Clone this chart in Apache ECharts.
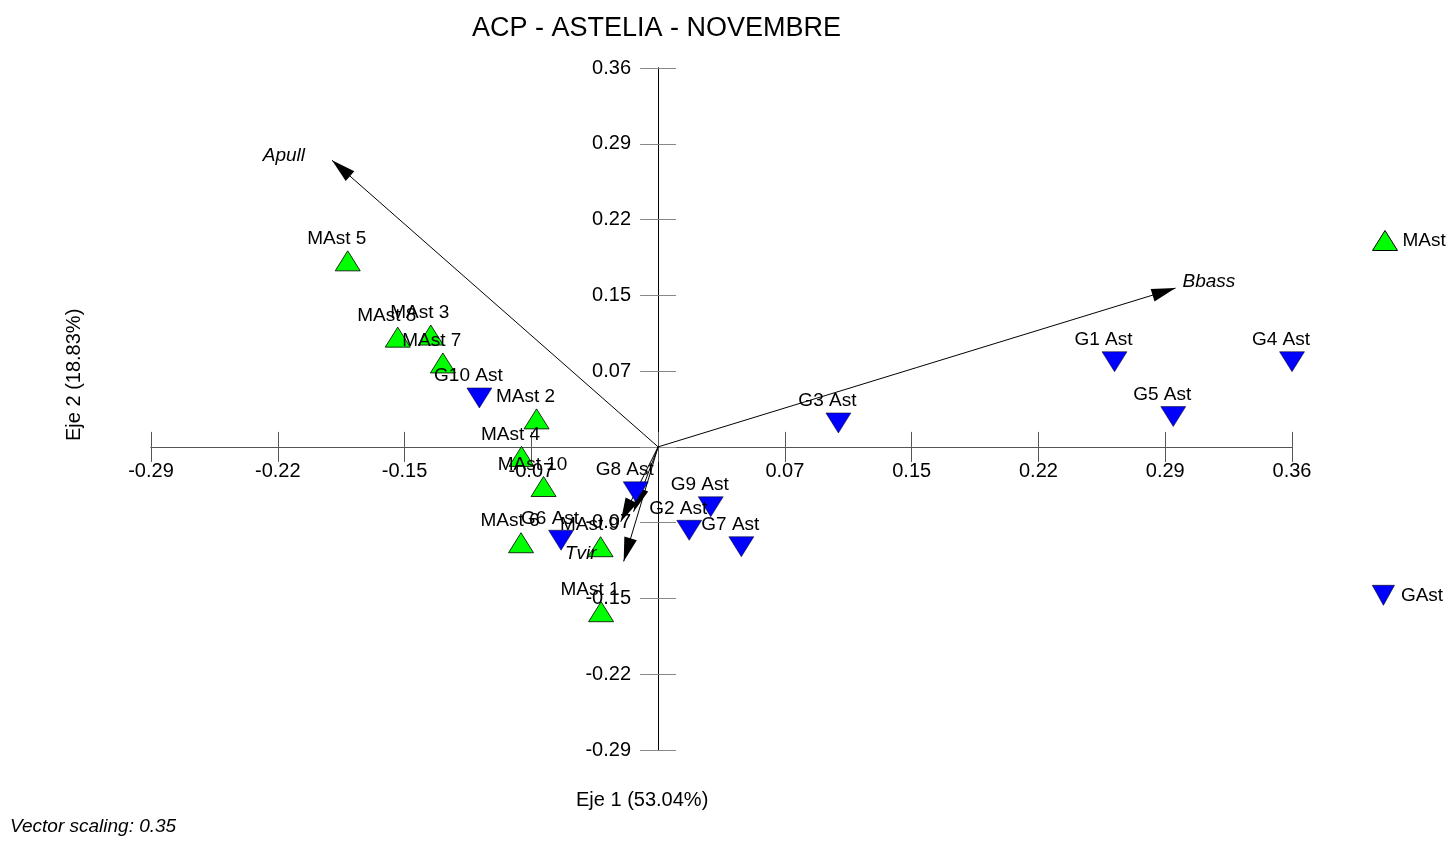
<!DOCTYPE html>
<html><head><meta charset="utf-8">
<script src="https://cdn.jsdelivr.net/npm/echarts@6/dist/echarts.min.js"></script>
<style>html,body{margin:0;padding:0;background:#fff}#c{width:1456px;height:841px}</style>
</head><body><div id="c"></div>
<script>
const axisMin = -0.29, axisMax = 0.3625, axisStep = 0.0725;
const xTickLabels = ['-0.29','-0.22','-0.15','-0.07','','0.07','0.15','0.22','0.29','0.36'];
const yTickLabels = ['-0.29','-0.22','-0.15','-0.07','','0.07','0.15','0.22','0.29','0.36'];

const mastNames = ['MAst 1','MAst 2','MAst 3','MAst 4','MAst 5','MAst 6','MAst 7','MAst 8','MAst 9','MAst 10'];
const mastX = [-0.0326,-0.0695,-0.130,-0.0781,-0.1775,-0.0784,-0.1231,-0.1489,-0.0329,-0.0655];
const mastY = [-0.1577,0.0268,0.107,-0.0091,0.178,-0.0917,0.0803,0.105,-0.0955,-0.0379];

const gastNames = ['G1 Ast','G2 Ast','G3 Ast','G4 Ast','G5 Ast','G6 Ast','G7 Ast','G8 Ast','G9 Ast','G10 Ast'];
const gastX = [0.261,0.0178,0.1031,0.3625,0.2946,-0.0555,0.0476,-0.0128,0.0301,-0.1022];
const gastY = [0.0815,-0.0798,0.0229,0.0815,0.029,-0.0893,-0.0955,-0.043,-0.0573,0.0468];

const vecNames = ['Apull','Bbass','Tvir','',''];
const vecX = [-0.1865,0.2959,-0.0197,-0.0214,-0.014];
const vecY = [0.2742,0.1519,-0.1096,-0.0717,-0.062];

const FONT = '"Liberation Sans", Arial, sans-serif';
const fmt = labels => v => labels[Math.round((v - axisMin) / axisStep)] || '';
// arrow head: tip at the symbol centre, body trailing behind; square bounding box via zero-length segments
const ARROW = 'path://M0,0L6.5,24L-6.5,24Z M-24,-24L-24,-24 M24,24L24,24';

const chart = echarts.init(document.getElementById('c'), null, {renderer:'canvas'});
const ptLabel = {show:true, position:'top', distance:2, offset:[-11,0], color:'#000', fontSize:19, fontFamily:FONT, formatter: p => p.name};
const vecLabelSide = {Apull:{position:'left', offset:[-22,-5]}, Bbass:{position:'right', offset:[2,-6]}, Tvir:{position:'left', offset:[-22,-8]}};

const hiddenAxis = {show:true, axisLine:{show:false}, axisTick:{show:false}, splitLine:{show:false}};

chart.setOption({
  backgroundColor:'#fff',
  animation:false,
  title:{text:'ACP - ASTELIA - NOVEMBRE', left:467, top:10, textStyle:{fontSize:27, fontWeight:'normal', color:'#000', fontFamily:FONT}},
  grid:[
    {left:151, right:164, top:68, bottom:91},
    {left:151, right:164, top:68, height:379},
    {left:658, right:164, top:68, bottom:91}
  ],
  legend:[
    {data:['MAst'], left:1367, top:225, itemWidth:25, itemHeight:20, itemGap:4, itemStyle:{borderColor:'#000', borderWidth:1}, textStyle:{fontSize:19, color:'#000', fontFamily:FONT}},
    {data:[{name:'GAst', icon:'path://M0,0L20,0L10,18Z'}], left:1367, top:580, itemWidth:25, itemHeight:20, itemGap:4, itemStyle:{borderColor:'#000', borderWidth:0.6}, textStyle:{fontSize:19, color:'#000', fontFamily:FONT}}
  ],
  xAxis:[
    {type:'value', gridIndex:0, min:axisMin, max:axisMax, interval:axisStep, splitLine:{show:false},
     axisLine:{onZero:true, lineStyle:{color:'#555', width:1}},
     axisTick:{inside:true, length:15, lineStyle:{color:'#555'}},
     axisLabel:{show:false}},
    {type:'value', gridIndex:0, min:axisMin, max:axisMax, interval:axisStep, splitLine:{show:false}, position:'bottom',
     axisLine:{onZero:true, show:true, lineStyle:{color:'#555', width:1}},
     axisTick:{inside:false, length:15, lineStyle:{color:'#555'}},
     axisLabel:{show:false}},
    Object.assign({type:'value', gridIndex:1, min:axisMin, max:axisMax, interval:axisStep, position:'bottom',
     axisLabel:{formatter:fmt(xTickLabels), margin:14, color:'#000', fontSize:20, fontFamily:FONT}}, hiddenAxis),
    {type:'value', gridIndex:2, show:false, min:0, max:1}
  ],
  yAxis:[
    {type:'value', gridIndex:0, min:axisMin, max:axisMax, interval:axisStep, splitLine:{show:false},
     axisLine:{onZero:true, lineStyle:{color:'#000', width:1}},
     axisTick:{inside:true, length:18, lineStyle:{color:'#888'}},
     axisLabel:{show:false}},
    {type:'value', gridIndex:0, min:axisMin, max:axisMax, interval:axisStep, splitLine:{show:false}, position:'left',
     axisLine:{onZero:true, show:true, lineStyle:{color:'#000', width:1}},
     axisTick:{inside:false, length:18, lineStyle:{color:'#888'}},
     axisLabel:{show:false}},
    {type:'value', gridIndex:1, show:false, min:0, max:1},
    Object.assign({type:'value', gridIndex:2, min:axisMin, max:axisMax, interval:axisStep, position:'left',
     axisLabel:{formatter:fmt(yTickLabels), margin:27, color:'#000', fontSize:20, fontFamily:FONT}}, hiddenAxis)
  ],
  graphic:[
    {type:'text', left:576, top:790, style:{text:'Eje 1 (53.04%)', fontSize:20, fontFamily:FONT, fill:'#000'}},
    {type:'text', x:64, y:441, rotation:Math.PI/2, style:{text:'Eje 2 (18.83%)', fontSize:20, fontFamily:FONT, fill:'#000'}},
    {type:'text', left:10, top:817, style:{text:'Vector scaling: 0.35', fontSize:19, fontStyle:'italic', fontFamily:FONT, fill:'#000'}}
  ],
  series:[
    {type:'lines', coordinateSystem:'cartesian2d', xAxisIndex:0, yAxisIndex:0, z:3, silent:true,
     symbol:['none', ARROW], symbolSize:[1,48],
     lineStyle:{color:'#000', width:1, opacity:1},
     data: vecX.map((x,i)=>({coords:[[0,0],[x,vecY[i]]]}))},
    {type:'scatter', name:'vlabels', xAxisIndex:0, yAxisIndex:0, symbol:'circle', symbolSize:0, z:6, silent:true,
     itemStyle:{color:'#000', opacity:1},
     label:{color:'#000'},
     data: vecX.map((x,i)=>{const s=vecLabelSide[vecNames[i]]||{position:'left',offset:[0,0]};
       return {name:vecNames[i], value:[x,vecY[i]], label:{show:!!vecNames[i], position:s.position, offset:s.offset, fontStyle:'italic', fontSize:19, fontFamily:FONT, color:'#000', formatter:p=>p.name}};})},
    {type:'scatter', name:'MAst', xAxisIndex:0, yAxisIndex:0, clip:false, symbol:'triangle', symbolSize:[25,20], z:5,
     itemStyle:{color:'#00ff00', borderColor:'#000', borderWidth:0.8, opacity:1},
     label:ptLabel,
     data: mastX.map((x,i)=>({name:mastNames[i], value:[x,mastY[i]]}))},
    {type:'scatter', name:'GAst', xAxisIndex:0, yAxisIndex:0, clip:false, symbol:'triangle', symbolRotate:180, symbolSize:[25,20], z:5,
     itemStyle:{color:'#0000ff', borderColor:'#000', borderWidth:0.5, opacity:1},
     label:ptLabel,
     data: gastX.map((x,i)=>({name:gastNames[i], value:[x,gastY[i]]}))}
  ]
});
</script></body></html>
